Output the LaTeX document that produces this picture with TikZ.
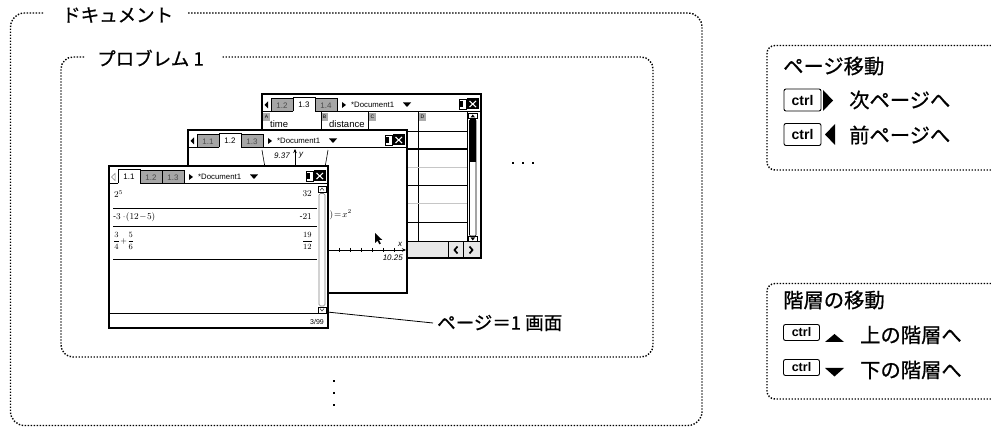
\documentclass[tikz,border=0pt]{standalone}
\usepackage{fontspec}
\setmainfont{Liberation Sans}
\newfontfamily\jp[FakeBold=0.7]{Noto Sans CJK JP}
\newfontfamily\tifont{Liberation Sans}
\usetikzlibrary{arrows.meta}
% one tab of a screen's tab bar: #1 name, #2 x0, #3 x1, #4 label, #5 index, #6 active index
\newcommand\onetab[6]{%
  \ifnum#5=#6\relax
    \fill[white] (#2,3) rectangle (#3,18.6);
    \draw[line width=.7pt] (#2,17.5) -- (#2,3) -- (#3,3) -- (#3,17.5);
    \node[tabtxt] (#1) at ({(#2+#3)/2},11) {#4};
  \else
    \draw[line width=.7pt, fill=gray!70] (#2,4.5) rectangle (#3,17.5);
    \node[tabtxt, text=black!70] (#1) at ({(#2+#3)/2},11.5) {#4};
  \fi}
% tab bar: #1 prefix, #2-#4 labels, #5 active, #6 left arrow (0 outline, 1 filled)
\newcommand\tabbar[6]{%
  \draw[line width=1.3pt] (0,17.5) -- (219,17.5);
  \onetab{#1a}{9}{31}{#2}{1}{#5}
  \onetab{#1b}{31}{53}{#3}{2}{#5}
  \onetab{#1c}{53}{75}{#4}{3}{#5}
  \ifnum#6=0\relax
    \draw[gray, line width=.5pt] (6,7.5) -- (2.5,11) -- (6,14.5) -- cycle;
  \else
    \fill (6,7.5) -- (2.5,11) -- (6,14.5) -- cycle;
  \fi
  \fill (80,8) -- (84,11) -- (80,14) -- cycle;
  \node[doctxt] (#1doc) at (89,11) {*Document1};
  \fill (141,8.5) -- (149,8.5) -- (145,13) -- cycle;
  \draw[line width=.7pt] (197,5.5) rectangle (204,15);
  \fill (197,7.5) rectangle (200.5,13);
  \fill (205,4.5) rectangle (216.5,15.5);
  \draw[white, line width=1.1pt] (207.5,7) -- (214,13) (207.5,13) -- (214,7);}
\begin{document}
\begin{tikzpicture}[x=1pt,y=-1pt,
  dotline/.style={line width=1.4pt, dash pattern=on 1.4pt off 1.6pt, black},
  jpbig/.style={font=\jp\fontsize{18.5}{19}\selectfont, inner sep=0pt},
  jpmid/.style={font=\jp\fontsize{20.3}{21}\selectfont, inner sep=0pt},
  scrframe/.style={line width=1.6pt},
  tabtxt/.style={font=\tifont\fontsize{8}{8}\selectfont, inner sep=0pt},
  doctxt/.style={font=\tifont\fontsize{7.8}{8}\selectfont, inner sep=0pt, anchor=west},
  mathtxt/.style={font=\fontsize{9}{9}\selectfont, inner sep=0pt},
  smalltxt/.style={font=\tifont\fontsize{9.5}{9}\selectfont, inner sep=0pt, anchor=west},
  lettxt/.style={font=\tifont\fontsize{5}{5}\selectfont, inner sep=0pt},
  keybox/.style={draw, line width=0.9pt, rounded corners=2pt,
    font=\tifont\bfseries\fontsize{14}{14}\selectfont,
    minimum width=37pt, minimum height=22pt, inner sep=0pt},
  keysmall/.style={keybox, font=\tifont\bfseries\fontsize{12.5}{12}\selectfont,
    minimum width=36pt, minimum height=16pt},
  rowline/.style={line width=0.7pt},
  leader/.style={line width=0.8pt},
]
\useasboundingbox (0,0) rectangle (991,427);
\clip (0,0) rectangle (991,427);

% document frame
\draw[dotline, rounded corners=14pt] (43,13) -- (10.5,13) -- (10.5,425.5) -- (702,425.5) -- (702,13) -- (188,13);
\node[jpbig, anchor=west] (doc) at (62,15) {ドキュメント};
% problem frame
\draw[dotline, rounded corners=12pt] (84,57) -- (61,57) -- (61,357) -- (653,357) -- (653,57) -- (222,57);
\node[jpbig, anchor=west] (prob) at (97,58) {プロブレム 1};

% ---------- screen 3 (spreadsheet) ----------
\begin{scope}[shift={(262,94)}]
  \fill[white] (0,0) rectangle (219,164);
  \foreach \cx/\cl in {1/A,59/B,107/C,157/D}{
    \fill[gray!65] (\cx,19) rectangle ++(7,8);
    \node[lettxt] (col\cl) at (\cx+3.5,23) {\cl};}
  \node[smalltxt] (s3time) at (8,30) {time};
  \node[smalltxt] (s3dist) at (67,30) {distance};
  \foreach \sx in {59,106,156} \draw[rowline] (\sx,18) -- (\sx,148);
  \draw[rowline] (0,37) -- (205,37);
  \draw[line width=1.4pt] (0,55) -- (205,55);
  \draw[rowline, gray!45] (0,73) -- (205,73);
  \draw[rowline] (0,91) -- (205,91);
  \draw[rowline, gray!45] (0,109) -- (205,109);
  \draw[rowline] (0,128) -- (205,128);
  \draw[rowline] (205,18) -- (205,148);
  % scrollbar
  \draw[line width=.5pt] (206.5,19.5) rectangle (215,24.5);
  \fill (208.5,23.5) -- (213,23.5) -- (210.75,20.5) -- cycle;
  \draw[line width=.6pt, rounded corners=1pt] (207.5,25.5) rectangle (214,142);
  \fill (207.5,25.5) rectangle (214,68);
  \draw[line width=.5pt] (206.5,142.5) rectangle (215,147.5);
  \fill (208.5,143.5) -- (213,143.5) -- (210.75,146.5) -- cycle;
  % bottom bar
  \draw[line width=1pt, fill=gray!18] (0,148) rectangle (219,164);
  \draw[rowline] (186,148) -- (186,164) (201,148) -- (201,164);
  \draw[line width=1.7pt] (195.5,152.5) -- (192.5,156) -- (195.5,159.5);
  \draw[line width=1.7pt] (207.5,152.5) -- (210.5,156) -- (207.5,159.5);
  \tabbar{sc}{1.2}{1.3}{1.4}{2}{1}
  \draw[scrframe] (0,0) rectangle (219,164);
\end{scope}

% ---------- screen 2 (graph) ----------
\begin{scope}[shift={(188,130)}]
  \fill[white] (0,0) rectangle (219,163);
  \draw[line width=.6pt, -{Stealth[length=4pt,width=3.5pt]}] (107,125) -- (107,19);
  \node[font=\fontsize{8}{8}\selectfont\itshape, inner sep=0pt, anchor=east] (ymax) at (102,26) {9.37};
  \node[font=\fontsize{8}{8}\selectfont\itshape, inner sep=0pt, anchor=west] (ylab) at (111,25) {y};
  \draw[line width=.6pt, domain=-33:33, samples=60] plot ({107+\x},{120-100*(\x/33)^2});
  \node[mathtxt, anchor=east] (fx) at (164,85) {$f1(x)\!=\!x^{2}$};
  \draw[line width=.6pt, -{Stealth[length=4pt,width=3.5pt]}] (0,120) -- (218,120);
  \foreach \k in {-9,...,9} \draw[line width=.5pt] (107+11*\k,118) -- (107+11*\k,122);
  \node[font=\fontsize{8}{8}\selectfont\itshape, inner sep=0pt] (xlab) at (212,114) {x};
  \node[font=\fontsize{8}{8}\selectfont\itshape, inner sep=0pt, anchor=east] (xmax) at (215,128) {10.25};
  \fill[shift={(187,103)}] (0,0) -- (0,10) -- (2.4,7.6) -- (4.3,11.3) -- (5.8,10.6) -- (4,7) -- (7.3,7) -- cycle;
  \tabbar{sb}{1.1}{1.2}{1.3}{2}{1}
  \draw[scrframe] (0,0) rectangle (219,163);
\end{scope}

% ---------- screen 1 (calculator) ----------
\begin{scope}[shift={(109,166)}]
  \fill[white] (0,0) rectangle (219,162);
  \node[mathtxt, anchor=west] (e1) at (5,28) {$2^{5}$};
  \node[mathtxt, anchor=east] (r1) at (203,28) {$32$};
  \draw[rowline] (4,42) -- (208,42);
  \node[mathtxt, anchor=west] (e2) at (4,51) {$\mbox{-}3\cdot\!\left(12\!-\!5\right)$};
  \node[mathtxt, anchor=east] (r2) at (203,51) {$\mbox{-}21$};
  \draw[rowline] (4,60) -- (208,60);
  \node[font=\fontsize{8.5}{9}\selectfont, inner sep=0pt, anchor=west] (e3) at (4,75) {$\displaystyle\frac{3}{4}\!+\!\frac{5}{6}$};
  \node[font=\fontsize{8.5}{9}\selectfont, inner sep=0pt, anchor=east] (r3) at (204,75) {$\displaystyle\frac{19}{12}$};
  \draw[rowline] (4,93) -- (208,93);
  % scrollbar
  \draw[line width=.5pt] (209,20.5) rectangle (217,26);
  \draw[line width=.4pt] (211,24.5) -- (213,22) -- (215,24.5);
  \draw[line width=.6pt, rounded corners=1.5pt, gray] (210,27.5) rectangle (216,140);
  \draw[line width=.5pt] (209,141) rectangle (217,147);
  \draw[line width=.4pt] (211,142.5) -- (213,145) -- (215,142.5);
  % status bar
  \draw[line width=1pt] (0,148) -- (219,148);
  \node[font=\tifont\fontsize{7}{7}\selectfont, inner sep=0pt, anchor=east] (st) at (215,155.5) {3/99};
  \tabbar{sa}{1.1}{1.2}{1.3}{1}{0}
  \draw[scrframe] (0,0) rectangle (219,162);
\end{scope}

% leader and label
\coordinate (lp) at (327,312);
\node[jpbig, anchor=west] (pg) at (437,323) {ページ＝1 画面};
\draw[leader] (lp) -- ([xshift=-4pt]pg.west);

% ellipses
\foreach \dx in {513,523,533} \fill (\dx-1.3,161.7) rectangle ++(2.6,2.6);
\foreach \dy in {381,393,405} \fill (332.7,\dy-1.3) rectangle ++(2.6,2.6);

% page move box
\draw[dotline, rounded corners=8pt] (1000,45.5) -- (767,45.5) -- (767,170) -- (1000,170);
\node[jpmid, anchor=west] (pm) at (783,66) {ページ移動};
\node[keybox] (k1) at (802.5,100) {ctrl};
\fill (823,90) -- (833,100.5) -- (823,111) -- cycle;
\node[jpmid, anchor=west] (nx) at (849,100) {次ページへ};
\node[keybox] (k2) at (802.5,134.5) {ctrl};
\fill (835,124) -- (825,134.5) -- (835,145) -- cycle;
\node[jpmid, anchor=west] (pv) at (849,135) {前ページへ};

% level move box
\draw[dotline, rounded corners=8pt] (1000,283.5) -- (767,283.5) -- (767,399) -- (1000,399);
\node[jpmid, anchor=west] (lv) at (783,300) {階層の移動};
\node[keysmall] (k3) at (801.5,332.5) {ctrl};
\fill (825,342) -- (834.5,334) -- (844,342) -- cycle;
\node[jpmid, anchor=west] (upl) at (860,335) {上の階層へ};
\node[keysmall] (k4) at (801.5,367.5) {ctrl};
\fill (825,368) -- (844,368) -- (834.5,376.5) -- cycle;
\node[jpmid, anchor=west] (dnl) at (860,370) {下の階層へ};
\end{tikzpicture}
\end{document}
